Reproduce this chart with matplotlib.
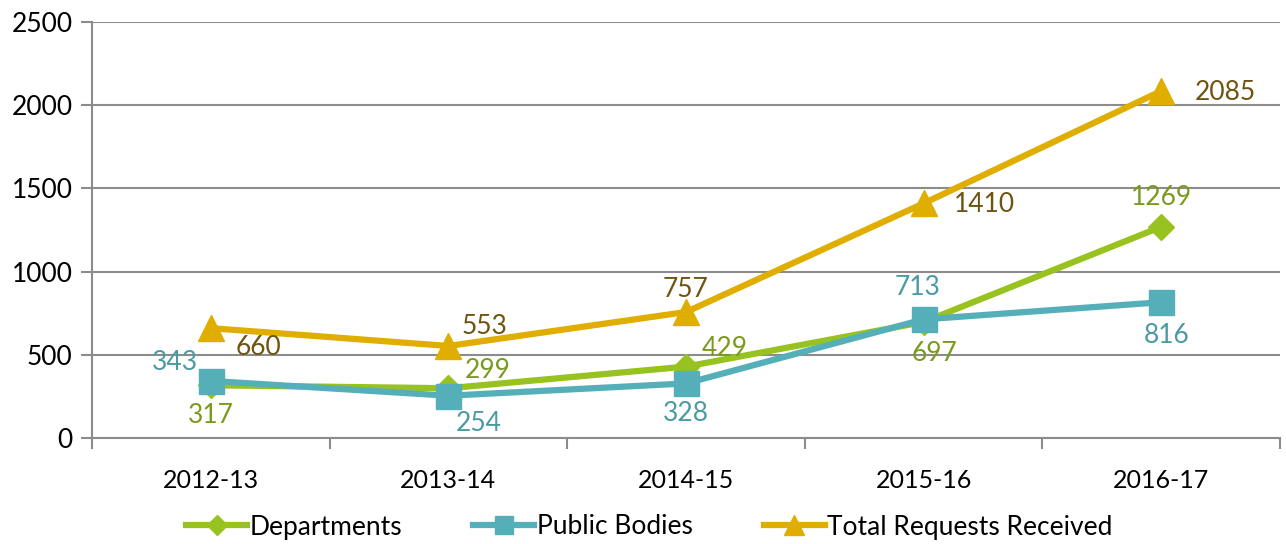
import matplotlib
matplotlib.use("Agg")
import matplotlib.pyplot as plt

categories = ["2012-13", "2013-14", "2014-15", "2015-16", "2016-17"]
departments = [317, 299, 429, 697, 1269]
public_bodies = [343, 254, 328, 713, 816]
total_requests = [660, 553, 757, 1410, 2085]
yticks = [0, 500, 1000, 1500, 2000, 2500]

plt.rcParams['font.family'] = ['Lato', 'DejaVu Sans']

fig = plt.figure(figsize=(12.86, 5.44), dpi=100)
ax = fig.add_axes([92/1286, 1 - 438/544, (1280-92)/1286, (438-22)/544])

x = list(range(len(categories)))
c_dep, c_pub, c_tot = "#97C21F", "#55AFB8", "#E0AE00"
l_dep, l_pub, l_tot = "#7A9A1E", "#4A9AA3", "#6E5410"

ax.plot(x, departments, color=c_dep, lw=4.5, marker="D", ms=13, label="Departments", zorder=3)
ax.plot(x, public_bodies, color=c_pub, lw=4.5, marker="s", ms=18, label="Public Bodies", zorder=4)
ax.plot(x, total_requests, color=c_tot, lw=4.5, marker="^", ms=19, label="Total Requests Received", zorder=5)

fs = 19
dep_off = [(0, -22), (28, 13), (28, 13), (8, -23), (0, 21)]
pub_off = [(-26, 13), (22, -20), (0, -22), (-4, 23), (4, -24)]
tot_off = [(34, -14), (26, 14), (0, 16), (44, -1), (46, -1)]
for xs, vals, offs, col in [(x, departments, dep_off, l_dep), (x, public_bodies, pub_off, l_pub),
                            (x, total_requests, tot_off, l_tot)]:
    for xi, v, o in zip(xs, vals, offs):
        ax.annotate(str(v), (xi, v), xytext=o, textcoords="offset points",
                    ha="center", va="center", fontsize=fs, color=col, zorder=6)

ax.set_xlim(-0.5, 4.5)
ax.set_ylim(0, 2500)
ax.set_yticks(yticks)
ax.set_xticks(x)
ax.set_xticklabels(categories)
ax.set_xticks([i - 0.5 for i in range(len(categories) + 1)], minor=True)
ax.grid(axis="y", color="#8C8C8C", lw=1.5, zorder=0)
ax.tick_params(axis="x", which="major", length=0, pad=22, labelsize=18)
ax.tick_params(axis="x", which="minor", length=8, width=1.5, color="#8C8C8C")
ax.tick_params(axis="y", length=8, width=1.5, color="#8C8C8C", labelsize=fs, pad=6)
for s in ["top", "right"]:
    ax.spines[s].set_visible(False)
for s in ["left", "bottom"]:
    ax.spines[s].set_color("#8C8C8C")
    ax.spines[s].set_linewidth(1.5)

leg = fig.legend(loc="center", bbox_to_anchor=(0.505, 1 - 527/544), ncol=3, frameon=False,
                 fontsize=fs, handlelength=2.3, handletextpad=0.1, columnspacing=2.7,
                 markerscale=0.75)

fig.savefig("out.png", dpi=100)
